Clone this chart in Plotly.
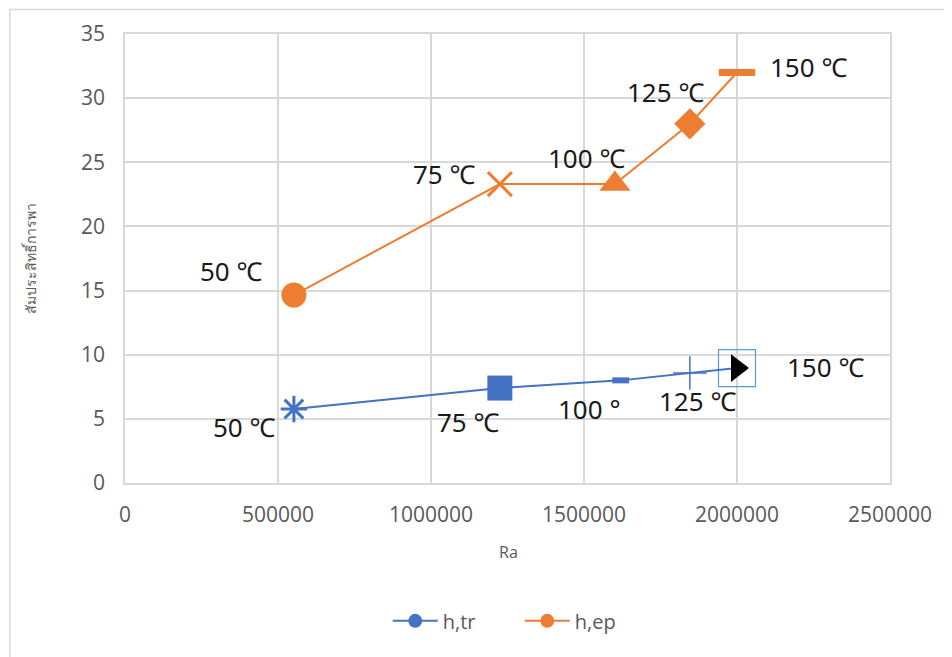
import plotly.graph_objects as go

# ---- data ----
ra_tr = [552000, 1225000, 1620000, 1846000, 2000000]
h_tr = [5.77, 7.4, 8.0, 8.57, 8.96]
labels_tr = ["50 ℃", "75 ℃", "100 °", "125 ℃", "150 ℃"]

ra_ep = [552000, 1225000, 1601000, 1846000, 2000000]
h_ep = [14.65, 23.3, 23.3, 28.0, 32.0]
labels_ep = ["50 ℃", "75 ℃", "100 ℃", "125 ℃", "150 ℃"]

x_ticks = [0, 500000, 1000000, 1500000, 2000000, 2500000]
y_ticks = [0, 5, 10, 15, 20, 25, 30, 35]

BLUE = "#4472C4"
ORANGE = "#ED7D31"
GRAY = "#595959"
FONT = "Open Sans"
LFONT = "Noto Sans"

fig = go.Figure()

# selection-box look around last blue point
fig.add_trace(go.Scatter(
    x=ra_tr[-1:], y=h_tr[-1:], mode="markers", showlegend=False, hoverinfo="skip",
    marker=dict(symbol="square-open", size=37, color="#5B9BD5", opacity=1, line=dict(width=1.2))))

fig.add_trace(go.Scatter(
    x=ra_tr, y=h_tr, mode="lines+markers", name="h,tr", showlegend=False,
    line=dict(color=BLUE, width=2),
    marker=dict(
        symbol=["asterisk-open", "square", "line-ew-open", "cross-thin-open", "triangle-right"],
        size=[22, 25, 12, 24, 24],
        opacity=1,
        color=[BLUE, BLUE, BLUE, BLUE, "black"],
        line=dict(width=[3, 0, 6, 1.5, 0], color=[BLUE, BLUE, BLUE, BLUE, "black"]))))

fig.add_trace(go.Scatter(
    x=ra_ep, y=h_ep, mode="lines+markers", name="h,ep", showlegend=False,
    line=dict(color=ORANGE, width=2),
    marker=dict(
        symbol=["circle", "x-thin-open", "triangle-up", "diamond", "line-ew-open"],
        size=[25, 24, 27, 24, 26],
        opacity=1,
        color=ORANGE,
        line=dict(width=[0, 3, 0, 0, 7], color=ORANGE))))

# legend entries
fig.add_trace(go.Scatter(x=[None], y=[None], mode="lines+markers", name="h,tr",
                         line=dict(color=BLUE, width=2), marker=dict(symbol="circle", size=14, color=BLUE)))
fig.add_trace(go.Scatter(x=[None], y=[None], mode="lines+markers", name="h,ep",
                         line=dict(color=ORANGE, width=2), marker=dict(symbol="circle", size=14, color=ORANGE)))

ep_shift = [(-62, 24), (-55, 10), (-28, 26), (-24, 32), (71, 5)]
tr_shift = [(-49, -18), (-31, -34), (-31, -29), (8, -28), (88, 1)]
for x, y, t, (dx, dy) in zip(ra_ep, h_ep, labels_ep, ep_shift):
    fig.add_annotation(x=x, y=y, text=t, showarrow=False, xshift=dx, yshift=dy,
                       font=dict(family=LFONT, size=26, color="#1a1a1a"))
for x, y, t, (dx, dy) in zip(ra_tr, h_tr, labels_tr, tr_shift):
    fig.add_annotation(x=x, y=y, text=t, showarrow=False, xshift=dx, yshift=dy,
                       font=dict(family=LFONT, size=26, color="#1a1a1a"))

fig.add_annotation(xref="paper", yref="paper", x=-0.124, y=0.5, text="สัมประสิทธิ์การพา",
                   xanchor="center", yanchor="middle",
                   textangle=-90, showarrow=False, font=dict(family="Noto Sans", size=14, color=GRAY))
fig.add_annotation(xref="paper", yref="paper", x=0.5007, y=-0.1537, text="Ra",
                   xanchor="center", yanchor="middle", showarrow=False,
                   font=dict(family=FONT, size=16, color=GRAY))

fig.update_layout(
    width=952, height=657,
    margin=dict(l=117, r=70, t=26, b=182),
    paper_bgcolor="white", plot_bgcolor="white",
    font=dict(family=FONT, color=GRAY),
    xaxis=dict(range=[0, 2500000], tickvals=x_ticks, ticktext=[str(v) for v in x_ticks],
               showgrid=True, gridcolor="#D9D9D9", gridwidth=1.5, zeroline=False,
               showline=True, linecolor="#D9D9D9", mirror=True, linewidth=1.5,
               tickfont=dict(size=21, color=GRAY), ticklabelstandoff=12),
    yaxis=dict(range=[0, 35], tickvals=y_ticks, showgrid=True, gridcolor="#D9D9D9", gridwidth=1.5,
               zeroline=False, showline=True, linecolor="#D9D9D9", mirror=True, linewidth=1.5,
               tickfont=dict(size=21, color=GRAY), ticklabelstandoff=14),
    legend=dict(orientation="h", x=0.516, xanchor="center", y=-0.307, yanchor="middle",
                font=dict(size=20, color=GRAY), itemwidth=45, entrywidth=72),
    shapes=[dict(type="rect", xref="paper", yref="paper", x0=-0.1505, x1=1.5, y0=-0.6, y1=1.0545,
                 line=dict(color="#D9D9D9", width=1.5), fillcolor="rgba(0,0,0,0)", layer="below")],
)

fig.write_html("out.html")
